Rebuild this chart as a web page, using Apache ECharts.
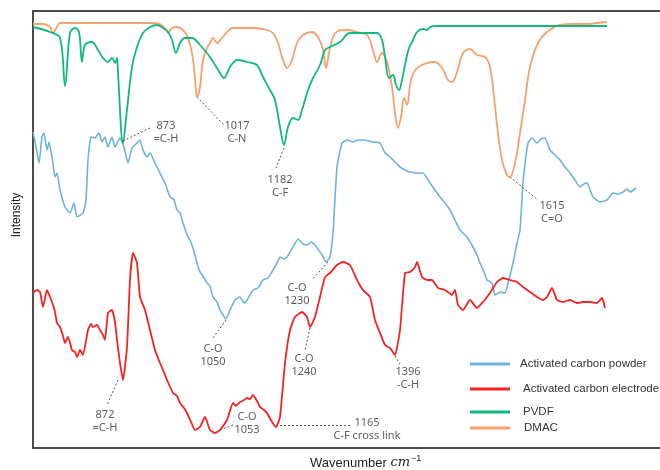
<!DOCTYPE html>
<html><head><meta charset="utf-8">
<script src="https://cdn.jsdelivr.net/npm/echarts@6/dist/echarts.min.js"></script>
<style>html,body{margin:0;padding:0;background:#fff}#c{width:660px;height:470px}</style>
</head><body><div id="c"></div>
<script>
// x: relative wavenumber position (arbitrary units), y: relative intensity
const seriesNames = ['Activated carbon powder','Activated carbon electrode','PVDF','DMAC'];
const seriesColors = ['#6db3dc','#f42323','#12b87c','#f7a06c'];

const pvdf = [[0,421],[17,416],[27,410],[32,362],[37,415],[42,420],[46,416],[49,386],[52,403],[59,406],[65,398],[70,390],[75,386],[79,390],[82,385],[84,390],[85,375],[90,305],[94,338],[99,381],[104,401],[110,415],[117,421],[124,423],[130,420],[135,416],[139,408],[143,395],[147,405],[152,410],[159,410],[167,403],[177,391],[187,375],[191,370],[197,381],[204,388],[214,386],[224,383],[230,371],[237,358],[242,348],[247,321],[251,303],[255,321],[260,330],[265,328],[269,338],[275,358],[280,370],[287,383],[292,398],[297,401],[307,406],[317,415],[330,415],[344,415],[349,408],[352,391],[356,370],[360,373],[363,363],[366,358],[369,368],[373,388],[376,400],[380,408],[384,416],[390,419],[394,418],[397,421],[404,422],[480,422],[574,422]];

const dmac = [[0,424],[10,424],[17,421],[20,415],[24,421],[27,425],[117,425],[127,424],[132,420],[135,415],[139,420],[144,421],[150,418],[155,410],[159,395],[162,371],[164,351],[167,361],[170,388],[174,400],[177,405],[180,410],[184,405],[189,410],[194,416],[200,420],[220,420],[234,418],[240,415],[245,405],[250,388],[254,380],[259,388],[264,405],[270,413],[279,416],[285,411],[290,398],[293,380],[296,395],[300,411],[305,417],[314,418],[324,416],[334,413],[340,398],[344,386],[349,395],[354,386],[359,361],[362,335],[365,320],[368,331],[371,350],[374,343],[378,368],[384,380],[394,385],[402,386],[409,380],[415,368],[419,366],[424,376],[430,395],[437,399],[444,393],[452,391],[457,381],[461,351],[465,315],[469,288],[474,273],[477,271],[482,285],[487,315],[492,348],[497,381],[505,405],[514,416],[527,423],[544,424],[557,424],[564,425],[574,426]];

const powder = [[0,316],[3,301],[6,285],[9,311],[11,315],[14,298],[16,306],[19,291],[22,271],[24,275],[27,258],[32,241],[37,235],[41,245],[44,231],[50,235],[53,248],[55,288],[58,311],[62,310],[66,315],[69,306],[72,311],[75,301],[79,311],[82,301],[87,310],[91,301],[95,285],[99,300],[104,305],[107,308],[110,298],[114,291],[117,295],[122,285],[127,275],[132,265],[137,251],[141,248],[144,238],[147,235],[150,225],[155,211],[157,208],[160,200],[164,185],[167,176],[170,172],[174,165],[177,162],[180,151],[184,146],[187,138],[193,129],[197,138],[202,148],[207,151],[211,145],[214,148],[220,158],[225,160],[230,168],[235,170],[240,178],[244,185],[247,191],[251,189],[254,191],[260,201],[265,209],[270,204],[274,203],[278,206],[282,203],[289,193],[293,186],[297,191],[300,215],[304,281],[309,305],[314,308],[320,306],[325,308],[330,308],[340,306],[347,305],[352,295],[356,292],[360,288],[364,284],[367,281],[372,278],[377,276],[384,275],[390,275],[397,265],[402,258],[407,251],[412,245],[417,238],[422,228],[427,218],[434,211],[440,201],[444,193],[447,185],[451,176],[454,168],[459,165],[462,153],[467,156],[472,155],[475,165],[480,185],[484,205],[487,218],[490,265],[495,305],[499,310],[504,305],[508,309],[512,310],[517,298],[522,293],[527,288],[532,281],[537,275],[542,268],[547,261],[551,264],[554,265],[560,251],[567,246],[574,248],[580,255],[585,254],[590,256],[594,259],[597,256],[603,260]];

const electrode = [[0,155],[4,158],[7,156],[10,141],[14,158],[17,151],[20,143],[22,136],[24,125],[27,121],[30,112],[32,105],[35,111],[39,98],[42,96],[44,91],[47,98],[50,93],[55,118],[58,124],[60,121],[64,123],[67,118],[70,113],[72,108],[75,135],[79,138],[82,126],[84,108],[87,85],[90,68],[94,101],[97,168],[100,195],[104,185],[107,151],[112,138],[117,118],[122,98],[127,85],[130,78],[134,68],[140,55],[144,52],[147,45],[151,40],[154,35],[158,26],[162,18],[167,21],[172,31],[177,18],[182,15],[187,18],[194,28],[200,45],[203,42],[207,46],[211,48],[214,50],[217,49],[220,53],[224,47],[227,41],[231,38],[234,35],[239,26],[243,21],[247,31],[252,85],[257,118],[262,131],[269,136],[274,131],[277,121],[282,131],[287,151],[292,171],[297,175],[304,183],[310,186],[317,183],[324,168],[330,158],[337,151],[342,128],[347,115],[352,103],[357,100],[362,93],[367,118],[372,175],[377,176],[382,181],[384,186],[389,171],[394,168],[399,168],[405,160],[412,158],[419,153],[422,158],[425,143],[430,138],[437,148],[444,140],[450,146],[457,155],[464,166],[470,170],[477,168],[484,166],[490,161],[497,156],[504,151],[510,148],[514,151],[519,160],[524,148],[530,146],[537,148],[544,145],[550,146],[557,146],[564,145],[569,150],[572,140]];

// annotations: text, peak point, label-end point, text centre
const annotations = [
  {text:'873\n=C-H', peak:[90,307], end:[117,320], at:[133,316]},
  {text:'1017\nC-N', peak:[164,351], end:[191,323], at:[204,316]},
  {text:'1182\nC-F', peak:[251,300], end:[243,280], at:[247,262]},
  {text:'1615\nC=O', peak:[477,271], end:[505,248], at:[519,236]},
  {text:'C-O\n1050', peak:[193,128], end:[180,110], at:[180,93]},
  {text:'C-O\n1230', peak:[295,186], end:[279,168], at:[264,154]},
  {text:'C-O\n1240', peak:[277,120], end:[272,98], at:[271,83]},
  {text:'872\n=C-H', peak:[85,68], end:[74,43], at:[72,27]},
  {text:'C-O\n1053', peak:[187,18], end:[200,23], at:[214,25]},
  {text:'1165\nC-F cross link', peak:[243,23], end:[319,23], at:[334,19]},
  {text:'1396\n-C-H', peak:[362,92], end:[367,84], at:[375,70]}
];

const legendTops = [353,378,401,417];
const legendPad = [5,8,8,9];

const chart = echarts.init(document.getElementById('c'), null, {renderer:'canvas'});
const dataSets = [powder, electrode, pvdf, dmac];
const series = dataSets.map((d,i)=>({
  name: seriesNames[i], type:'line', data:d, symbol:'none', showSymbol:false,
  smooth: i>=2 ? 0.35 : 0.15,
  lineStyle:{color:seriesColors[i], width: i===0?1.6:1.8},
  itemStyle:{color:seriesColors[i]}, z: [2,3,4,3][i], animation:false
}));
series.push({
  type:'scatter', symbolSize:0, silent:true, animation:false,
  data: annotations.map(a=>({value:a.at, name:a.text})),
  label:{show:true, position:'inside', formatter:p=>p.name, color:'#333', fontSize:11,
         fontFamily:'Noto Sans, sans-serif', lineHeight:13, align:'center'},
  markLine:{silent:true, symbol:['none','none'], animation:false,
    lineStyle:{type:[2,2], color:'#555', width:1}, label:{show:false},
    data: annotations.map(a=>[{coord:a.peak},{coord:a.end}])}
});

chart.setOption({
  animation:false,
  grid:{left:33, top:11, right:0, bottom:22},
  xAxis:[
    {type:'value', min:0, max:627, axisLine:{show:true, lineStyle:{color:'#4a4a4a', width:2}},
     axisTick:{show:false}, axisLabel:{show:false}, splitLine:{show:false}},
    {type:'value', position:'top', min:0, max:627, axisLine:{show:true, lineStyle:{color:'#4a4a4a', width:2}},
     axisTick:{show:false}, axisLabel:{show:false}, splitLine:{show:false}}
  ],
  yAxis:{type:'value', min:0, max:437, axisLine:{show:true, lineStyle:{color:'#4a4a4a', width:2}},
     axisTick:{show:false}, axisLabel:{show:false}, splitLine:{show:false}},
  legend: seriesNames.map((n,i)=>({
    data:[n], left:465, top:legendTops[i], itemWidth:40, itemHeight:14, icon:'path://M0,0L40,0L40,3L0,3Z',
    itemStyle:{color:seriesColors[i]},
    textStyle:{fontSize:11.5, color:'#333', fontFamily:'Liberation Sans, Arial, sans-serif', padding:[0,0,0,legendPad[i]]},
    selectedMode:false
  })),
  graphic:[
    {type:'text', x:17, y:215, rotation:Math.PI/2, style:{text:'Intensity', fill:'#222', font:'12px "Liberation Sans", Arial, sans-serif', align:'center', verticalAlign:'middle'}},
    {type:'text', x:310, y:463, style:{text:'Wavenumber {i|cm}{s|−1}', fill:'#222', font:'13px "Liberation Sans", Arial, sans-serif', verticalAlign:'middle',
      rich:{i:{fontStyle:'italic', fontFamily:'DejaVu Serif, serif', fontSize:13, fill:'#222'}, s:{fontSize:9, verticalAlign:'top', fill:'#222', padding:[0,0,8,1]}}}}
  ],
  series: series
});
</script></body></html>
